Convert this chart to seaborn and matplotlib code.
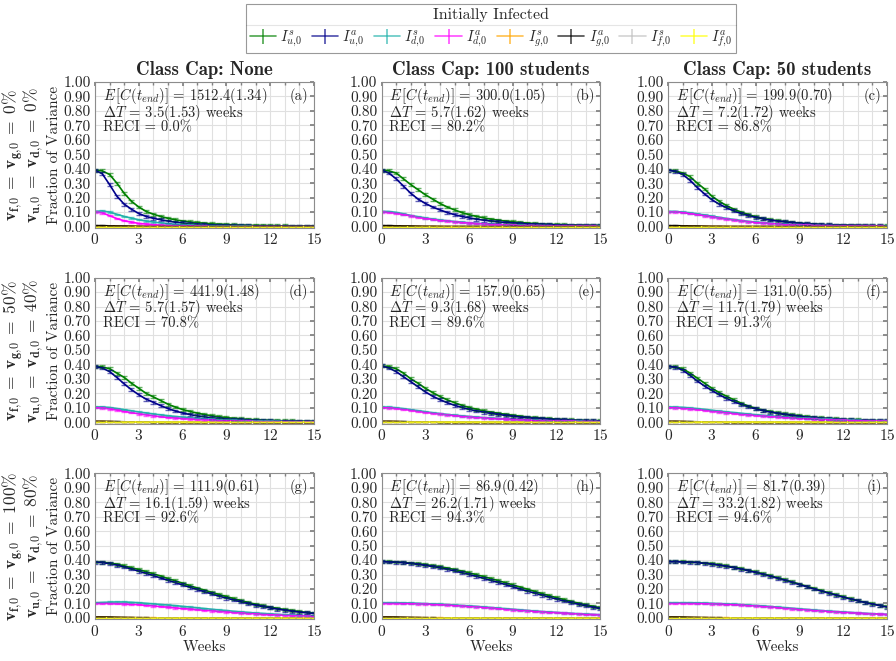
import numpy as np
import pandas as pd
import seaborn as sns
import matplotlib

matplotlib.use("Agg")
import matplotlib.pyplot as plt
from matplotlib.lines import Line2D
from matplotlib.ticker import MultipleLocator, FormatStrFormatter


sns.set_theme(style="white")
plt.rcParams.update({
    "font.family": "serif",
    "font.serif": ["cmr10"],
    "mathtext.fontset": "cm",
    "axes.formatter.use_mathtext": True,
    "axes.unicode_minus": False,
})

# time axis (weeks), one sample every half week
WEEKS = np.arange(0, 15.5, 0.5)

SERIES = ["I_us", "I_ua", "I_ds", "I_da", "I_gs", "I_ga", "I_fs", "I_fa"]
LABELS = [r"$I^s_{u,\!0}$", r"$I^a_{u,\!0}$", r"$I^s_{d,\!0}$", r"$I^a_{d,\!0}$",
          r"$I^s_{g,\!0}$", r"$I^a_{g,\!0}$", r"$I^s_{f,\!0}$", r"$I^a_{f,\!0}$"]
COLORS = ["green", "darkblue", "lightseagreen", "magenta",
          "orange", "black", "silver", "yellow"]
ERR = [0.010, 0.010, 0.005, 0.005, 0.002, 0.002, 0.0, 0.0]

COL_TITLES = ["Class Cap: None", "Class Cap: 100 students", "Class Cap: 50 students"]
ROW_TOP = [r"$\mathbf{v_{f,\!0}\;=\;v_{g,\!0}\;=\;0\%}$",
           r"$\mathbf{v_{f,\!0}\;=\;v_{g,\!0}\;=\;50\%}$",
           r"$\mathbf{v_{f,\!0}\;=\;v_{g,\!0}\;=\;100\%}$"]
ROW_BOT = [r"$\mathbf{v_{u,\!0}\;=\;v_{d,\!0}\;=\;0\%}$",
           r"$\mathbf{v_{u,\!0}\;=\;v_{d,\!0}\;=\;40\%}$",
           r"$\mathbf{v_{u,\!0}\;=\;v_{d,\!0}\;=\;80\%}$"]

PANEL_TAGS = ["(a)", "(b)", "(c)", "(d)", "(e)", "(f)", "(g)", "(h)", "(i)"]
CASES = ["1512.4(1.34)", "300.0(1.05)", "199.9(0.70)",
         "441.9(1.48)", "157.9(0.65)", "131.0(0.55)",
         "111.9(0.61)", "86.9(0.42)", "81.7(0.39)"]
DELTA_T = ["3.5(1.53)", "5.7(1.62)", "7.2(1.72)",
           "5.7(1.57)", "9.3(1.68)", "11.7(1.79)",
           "16.1(1.59)", "26.2(1.71)", "33.2(1.82)"]
RECI = ["0.0", "80.2", "86.8", "70.8", "89.6", "91.3", "92.6", "94.3", "94.6"]

# panel (a)
US_A = [0.39, 0.385, 0.36, 0.30, 0.23, 0.175, 0.135, 0.105, 0.085, 0.07, 0.057, 0.047, 0.038, 0.032, 0.027, 0.023,
        0.019, 0.016, 0.014, 0.012, 0.010, 0.009, 0.008, 0.007, 0.006, 0.005, 0.005, 0.004, 0.004, 0.003, 0.003]
UA_A = [0.39, 0.365, 0.29, 0.21, 0.155, 0.12, 0.09, 0.07, 0.057, 0.047, 0.038, 0.030, 0.025, 0.020, 0.016, 0.013,
        0.011, 0.009, 0.008, 0.007, 0.006, 0.005, 0.004, 0.004, 0.003, 0.003, 0.003, 0.002, 0.002, 0.002, 0.002]
DS_A = [0.105, 0.108, 0.10, 0.085, 0.07, 0.058, 0.047, 0.038, 0.031, 0.025, 0.02, 0.016, 0.013, 0.011, 0.009, 0.007,
        0.006, 0.005, 0.004, 0.004, 0.003, 0.003, 0.002, 0.002, 0.002, 0.002, 0.001, 0.001, 0.001, 0.001, 0.001]
DA_A = [0.10, 0.095, 0.075, 0.055, 0.04, 0.03, 0.022, 0.017, 0.013, 0.010, 0.008, 0.006, 0.005, 0.004, 0.003, 0.003,
        0.002, 0.002, 0.002, 0.001, 0.001, 0.001, 0.001, 0.001, 0.001, 0.001, 0.0, 0.0, 0.0, 0.0, 0.0]
# panel (b)
US_B = [0.39, 0.385, 0.37, 0.33, 0.29, 0.255, 0.22, 0.19, 0.16, 0.135, 0.115, 0.097, 0.082, 0.07, 0.06, 0.051,
        0.044, 0.038, 0.033, 0.028, 0.024, 0.021, 0.018, 0.016, 0.014, 0.012, 0.011, 0.010, 0.009, 0.008, 0.007]
UA_B = [0.39, 0.37, 0.33, 0.28, 0.23, 0.19, 0.16, 0.135, 0.115, 0.097, 0.082, 0.07, 0.06, 0.051, 0.044, 0.038,
        0.032, 0.028, 0.024, 0.021, 0.018, 0.016, 0.014, 0.012, 0.011, 0.010, 0.009, 0.008, 0.007, 0.006, 0.006]
DS_B = [0.105, 0.104, 0.098, 0.088, 0.077, 0.068, 0.06, 0.052, 0.046, 0.04, 0.035, 0.03, 0.026, 0.023, 0.02, 0.017,
        0.015, 0.013, 0.011, 0.01, 0.009, 0.008, 0.007, 0.006, 0.005, 0.005, 0.004, 0.004, 0.003, 0.003, 0.003]
DA_B = [0.10, 0.098, 0.092, 0.083, 0.073, 0.064, 0.056, 0.049, 0.043, 0.037, 0.032, 0.028, 0.024, 0.021, 0.018, 0.016,
        0.014, 0.012, 0.010, 0.009, 0.008, 0.007, 0.006, 0.005, 0.005, 0.004, 0.004, 0.003, 0.003, 0.003, 0.002]
# panel (c)
US_C = [0.39, 0.385, 0.37, 0.345, 0.30, 0.26, 0.21, 0.175, 0.145, 0.12, 0.1, 0.083, 0.068, 0.056, 0.047, 0.04,
        0.034, 0.028, 0.024, 0.020, 0.017, 0.014, 0.012, 0.011, 0.010, 0.009, 0.008, 0.007, 0.006, 0.005, 0.005]
UA_C = [0.39, 0.38, 0.36, 0.32, 0.27, 0.225, 0.185, 0.155, 0.13, 0.108, 0.09, 0.075, 0.063, 0.053, 0.045, 0.038,
        0.032, 0.027, 0.023, 0.019, 0.016, 0.014, 0.012, 0.010, 0.009, 0.008, 0.007, 0.006, 0.005, 0.005, 0.004]
DS_C = [0.105, 0.105, 0.10, 0.095, 0.088, 0.08, 0.072, 0.064, 0.056, 0.049, 0.042, 0.036, 0.031, 0.027, 0.023, 0.02,
        0.017, 0.015, 0.013, 0.011, 0.009, 0.008, 0.007, 0.006, 0.005, 0.005, 0.004, 0.004, 0.003, 0.003, 0.003]
DA_C = [0.10, 0.10, 0.096, 0.09, 0.082, 0.074, 0.066, 0.058, 0.051, 0.044, 0.038, 0.033, 0.028, 0.024, 0.021, 0.018,
        0.015, 0.013, 0.011, 0.010, 0.008, 0.007, 0.006, 0.005, 0.005, 0.004, 0.004, 0.003, 0.003, 0.003, 0.002]
# panel (d)
US_D = [0.385, 0.383, 0.37, 0.34, 0.31, 0.27, 0.235, 0.2, 0.175, 0.15, 0.125, 0.105, 0.088, 0.075, 0.063, 0.053,
        0.045, 0.038, 0.032, 0.027, 0.023, 0.020, 0.017, 0.015, 0.013, 0.011, 0.010, 0.009, 0.008, 0.007, 0.006]
UA_D = [0.385, 0.375, 0.35, 0.31, 0.265, 0.225, 0.19, 0.16, 0.138, 0.115, 0.095, 0.078, 0.064, 0.053, 0.044, 0.037,
        0.031, 0.026, 0.022, 0.019, 0.016, 0.014, 0.012, 0.010, 0.009, 0.008, 0.007, 0.006, 0.005, 0.005, 0.004]
DS_D = [0.105, 0.106, 0.102, 0.095, 0.087, 0.079, 0.071, 0.064, 0.057, 0.051, 0.045, 0.04, 0.035, 0.031, 0.027, 0.024,
        0.021, 0.018, 0.016, 0.014, 0.012, 0.011, 0.010, 0.009, 0.008, 0.007, 0.006, 0.005, 0.005, 0.004, 0.004]
DA_D = [0.10, 0.098, 0.092, 0.084, 0.075, 0.066, 0.058, 0.051, 0.044, 0.038, 0.033, 0.029, 0.025, 0.022, 0.019, 0.016,
        0.014, 0.012, 0.011, 0.009, 0.008, 0.007, 0.006, 0.005, 0.005, 0.004, 0.004, 0.003, 0.003, 0.003, 0.002]
# panel (e)
US_E = [0.39, 0.385, 0.37, 0.34, 0.30, 0.27, 0.235, 0.205, 0.178, 0.155, 0.135, 0.117, 0.102, 0.09, 0.079, 0.07,
        0.062, 0.055, 0.048, 0.042, 0.036, 0.032, 0.028, 0.025, 0.022, 0.019, 0.016, 0.014, 0.012, 0.010, 0.009]
UA_E = [0.39, 0.375, 0.35, 0.315, 0.28, 0.245, 0.21, 0.18, 0.156, 0.135, 0.117, 0.102, 0.089, 0.078, 0.069, 0.061,
        0.054, 0.047, 0.041, 0.036, 0.031, 0.027, 0.024, 0.021, 0.018, 0.016, 0.014, 0.012, 0.010, 0.009, 0.008]
DS_E = [0.105, 0.104, 0.1, 0.094, 0.087, 0.08, 0.073, 0.066, 0.06, 0.054, 0.049, 0.044, 0.04, 0.036, 0.032, 0.029,
        0.026, 0.023, 0.02, 0.018, 0.016, 0.014, 0.013, 0.011, 0.01, 0.009, 0.008, 0.007, 0.006, 0.006, 0.005]
DA_E = [0.10, 0.099, 0.095, 0.089, 0.082, 0.075, 0.068, 0.062, 0.056, 0.05, 0.045, 0.041, 0.037, 0.033, 0.03, 0.027,
        0.024, 0.021, 0.019, 0.017, 0.015, 0.013, 0.012, 0.01, 0.009, 0.008, 0.007, 0.006, 0.006, 0.005, 0.004]
# panel (f)
US_F = [0.385, 0.383, 0.37, 0.34, 0.305, 0.27, 0.235, 0.205, 0.18, 0.155, 0.132, 0.112, 0.097, 0.084, 0.074, 0.065,
        0.058, 0.051, 0.045, 0.039, 0.034, 0.03, 0.027, 0.024, 0.021, 0.019, 0.017, 0.015, 0.013, 0.011, 0.01]
UA_F = [0.385, 0.38, 0.36, 0.325, 0.285, 0.25, 0.22, 0.19, 0.165, 0.143, 0.123, 0.106, 0.092, 0.08, 0.07, 0.061,
        0.053, 0.046, 0.04, 0.035, 0.031, 0.027, 0.024, 0.021, 0.018, 0.016, 0.014, 0.012, 0.011, 0.01, 0.009]
DS_F = [0.105, 0.105, 0.103, 0.099, 0.094, 0.089, 0.083, 0.077, 0.072, 0.067, 0.062, 0.057, 0.052, 0.048, 0.044, 0.04,
        0.037, 0.034, 0.031, 0.028, 0.026, 0.024, 0.022, 0.02, 0.018, 0.016, 0.015, 0.013, 0.012, 0.011, 0.01]
DA_F = [0.10, 0.099, 0.096, 0.092, 0.087, 0.082, 0.076, 0.07, 0.065, 0.06, 0.055, 0.05, 0.046, 0.042, 0.038, 0.035,
        0.032, 0.029, 0.026, 0.024, 0.022, 0.02, 0.018, 0.016, 0.015, 0.013, 0.012, 0.011, 0.01, 0.009, 0.008]
# panel (g)
US_G = [0.387, 0.386, 0.38, 0.372, 0.36, 0.347, 0.335, 0.32, 0.305, 0.29, 0.272, 0.257, 0.24, 0.223, 0.207, 0.192,
        0.177, 0.162, 0.148, 0.134, 0.12, 0.107, 0.095, 0.085, 0.075, 0.066, 0.058, 0.051, 0.044, 0.038, 0.033]
UA_G = [0.385, 0.382, 0.375, 0.365, 0.352, 0.338, 0.323, 0.308, 0.292, 0.276, 0.26, 0.244, 0.228, 0.212, 0.196, 0.181,
        0.166, 0.151, 0.137, 0.124, 0.111, 0.099, 0.088, 0.078, 0.069, 0.061, 0.053, 0.046, 0.04, 0.035, 0.03]
DS_G = [0.105, 0.107, 0.109, 0.11, 0.11, 0.108, 0.105, 0.101, 0.097, 0.093, 0.089, 0.085, 0.08, 0.075, 0.07, 0.065,
        0.06, 0.055, 0.051, 0.046, 0.042, 0.038, 0.034, 0.031, 0.028, 0.025, 0.022, 0.02, 0.018, 0.016, 0.014]
DA_G = [0.10, 0.10, 0.099, 0.098, 0.096, 0.094, 0.091, 0.087, 0.083, 0.078, 0.074, 0.069, 0.065, 0.061, 0.057, 0.053,
        0.049, 0.045, 0.041, 0.037, 0.034, 0.031, 0.028, 0.025, 0.022, 0.02, 0.018, 0.016, 0.014, 0.013, 0.011]
# panel (h)
US_H = [0.39, 0.389, 0.387, 0.384, 0.38, 0.375, 0.369, 0.362, 0.354, 0.345, 0.335, 0.324, 0.312, 0.299, 0.286, 0.272,
        0.258, 0.243, 0.228, 0.213, 0.198, 0.183, 0.168, 0.154, 0.14, 0.127, 0.114, 0.102, 0.091, 0.08, 0.07]
UA_H = [0.388, 0.387, 0.385, 0.381, 0.376, 0.37, 0.363, 0.355, 0.346, 0.336, 0.325, 0.313, 0.3, 0.287, 0.273, 0.259,
        0.245, 0.23, 0.215, 0.2, 0.185, 0.171, 0.157, 0.143, 0.13, 0.117, 0.105, 0.094, 0.083, 0.073, 0.064]
DS_H = [0.105, 0.105, 0.105, 0.104, 0.103, 0.101, 0.099, 0.097, 0.095, 0.092, 0.089, 0.086, 0.083, 0.08, 0.076, 0.072,
        0.068, 0.064, 0.06, 0.056, 0.052, 0.048, 0.044, 0.041, 0.038, 0.035, 0.032, 0.029, 0.026, 0.024, 0.022]
DA_H = [0.10, 0.10, 0.10, 0.099, 0.098, 0.097, 0.095, 0.093, 0.091, 0.088, 0.085, 0.082, 0.079, 0.076, 0.072, 0.068,
        0.064, 0.06, 0.056, 0.052, 0.049, 0.045, 0.042, 0.039, 0.036, 0.033, 0.03, 0.027, 0.025, 0.023, 0.021]
# panel (i)
US_I = [0.39, 0.39, 0.389, 0.387, 0.384, 0.38, 0.375, 0.368, 0.36, 0.351, 0.341, 0.33, 0.318, 0.305, 0.292, 0.278,
        0.264, 0.249, 0.234, 0.219, 0.204, 0.189, 0.174, 0.16, 0.146, 0.133, 0.12, 0.108, 0.097, 0.087, 0.077]
UA_I = [0.388, 0.388, 0.387, 0.385, 0.382, 0.377, 0.371, 0.364, 0.356, 0.347, 0.337, 0.326, 0.314, 0.301, 0.288, 0.274,
        0.26, 0.245, 0.23, 0.215, 0.2, 0.185, 0.171, 0.157, 0.143, 0.13, 0.118, 0.106, 0.095, 0.085, 0.075]
DS_I = [0.105, 0.105, 0.105, 0.105, 0.104, 0.103, 0.101, 0.099, 0.097, 0.095, 0.092, 0.089, 0.086, 0.083, 0.079, 0.075,
        0.071, 0.067, 0.063, 0.059, 0.055, 0.051, 0.047, 0.044, 0.041, 0.038, 0.035, 0.032, 0.029, 0.027, 0.025]
DA_I = [0.10, 0.10, 0.10, 0.10, 0.099, 0.098, 0.097, 0.095, 0.093, 0.091, 0.088, 0.085, 0.082, 0.079, 0.075, 0.071,
        0.067, 0.063, 0.059, 0.055, 0.052, 0.048, 0.045, 0.042, 0.039, 0.036, 0.033, 0.03, 0.028, 0.026, 0.024]

# the four near-zero groups (same in every panel)
GS_ALL = [0.005, 0.005, 0.004, 0.003, 0.002, 0.002, 0.001, 0.001, 0.001, 0.0, 0.0, 0.0, 0.0, 0.0, 0.0, 0.0,
          0.0, 0.0, 0.0, 0.0, 0.0, 0.0, 0.0, 0.0, 0.0, 0.0, 0.0, 0.0, 0.0, 0.0, 0.0]
GA_ALL = [0.006, 0.006, 0.005, 0.004, 0.003, 0.002, 0.001, 0.001, 0.0, 0.0, 0.0, 0.0, 0.0, 0.0, 0.0, 0.0,
          0.0, 0.0, 0.0, 0.0, 0.0, 0.0, 0.0, 0.0, 0.0, 0.0, 0.0, 0.0, 0.0, 0.0, 0.0]
FS_ALL = [0.0] * 31
FA_ALL = [0.0] * 31

PANELS = [
    [US_A, UA_A, DS_A, DA_A], [US_B, UA_B, DS_B, DA_B], [US_C, UA_C, DS_C, DA_C],
    [US_D, UA_D, DS_D, DA_D], [US_E, UA_E, DS_E, DA_E], [US_F, UA_F, DS_F, DA_F],
    [US_G, UA_G, DS_G, DA_G], [US_H, UA_H, DS_H, DA_H], [US_I, UA_I, DS_I, DA_I],
]


def panel_frame(values):
    rows = []
    for name, ys in zip(SERIES, values + [GS_ALL, GA_ALL, FS_ALL, FA_ALL]):
        for t, y in zip(WEEKS, ys):
            rows.append({"week": t, "frac": y, "series": name})
    return pd.DataFrame(rows)


fig = plt.figure(figsize=(8.96, 6.61), dpi=100)
axes = fig.subplots(3, 3)
fig.subplots_adjust(left=0.106, right=0.99, bottom=0.063, top=0.876, wspace=0.309, hspace=0.34)

handles = []
for k, ax in enumerate(axes.flat):
    df = panel_frame(PANELS[k])
    sns.lineplot(data=df, x="week", y="frac", hue="series", hue_order=SERIES,
                 palette=COLORS, linewidth=1.2, legend=False, ax=ax)
    for name, color, err in zip(SERIES, COLORS, ERR):
        sub = df[df["series"] == name]
        ax.errorbar(sub["week"], sub["frac"], yerr=err, fmt="none", ecolor=color,
                    elinewidth=1.0, capsize=2, alpha=0.6)
        if k == 0:
            handles.append(ax.errorbar([], [], yerr=[], color=color, lw=1.2,
                                       capsize=2.5, alpha=0.7))

    ax.set_xlim(0, 15)
    ax.set_ylim(-0.01, 1.0)
    ax.xaxis.set_major_locator(MultipleLocator(3))
    ax.xaxis.set_minor_locator(MultipleLocator(1))
    ax.yaxis.set_major_locator(MultipleLocator(0.1))
    ax.yaxis.set_major_formatter(FormatStrFormatter("%.2f"))
    ax.tick_params(which="both", direction="in", top=True, right=True,
                   labelsize=11, length=3, color="0.5", pad=3)
    ax.tick_params(which="minor", length=2)
    ax.grid(which="major", color="0.88", lw=0.8)
    ax.grid(which="minor", axis="x", color="0.88", lw=0.8)
    for s in ax.spines.values():
        s.set_color("0.55")
        s.set_linewidth(0.8)
    ax.set_xlabel("Weeks" if k >= 6 else "", fontsize=11, labelpad=1)
    ax.set_ylabel("Fraction of Variance" if k % 3 == 0 else "", fontsize=11, labelpad=2)

    ax.text(0.035, 0.905, r"$E\,\left[C(t_{end})\right]$ = " + CASES[k],
            transform=ax.transAxes, fontsize=10.5, va="center")
    ax.text(0.035, 0.79, r"$\Delta T$ = " + DELTA_T[k] + " weeks",
            transform=ax.transAxes, fontsize=10.5, va="center")
    ax.text(0.035, 0.688, "RECI = " + RECI[k] + "%",
            transform=ax.transAxes, fontsize=10.5, va="center")
    ax.text(0.975, 0.905, PANEL_TAGS[k], transform=ax.transAxes,
            fontsize=10.5, va="center", ha="right")

for c, title in enumerate(COL_TITLES):
    axes[0, c].set_title(title, fontname="cmb10", fontsize=13.5, pad=5)

for r in range(3):
    pos = axes[r, 0].get_position()
    yc = (pos.y0 + pos.y1) / 2
    fig.text(13 / 896, yc, ROW_TOP[r], rotation=90, ha="center", va="center", fontsize=12.5)
    fig.text(33 / 896, yc, ROW_BOT[r], rotation=90, ha="center", va="center", fontsize=12.5)

leg = fig.legend(handles, LABELS, loc="upper center", bbox_to_anchor=(0.548, 0.994),
                 borderaxespad=0, ncol=8, title="Initially Infected", fontsize=10.5,
                 title_fontsize=11.5, frameon=True, fancybox=False, edgecolor="0.5",
                 handlelength=1.8, handletextpad=0.3, columnspacing=0.65, borderpad=0.25)
leg.get_frame().set_linewidth(0.8)

# rule under the legend title, matched to the drawn legend box
fig.canvas.draw()
inv = fig.transFigure.inverted()
frame_bb = leg.get_frame().get_window_extent()
title_bb = leg.get_title().get_window_extent()
x0, _ = inv.transform((frame_bb.x0, 0))
x1, _ = inv.transform((frame_bb.x1, 0))
_, yline = inv.transform((0, title_bb.y0 - 3))
fig.add_artist(Line2D([x0, x1], [yline, yline], color="0.5", lw=0.8))

fig.savefig("out.png", dpi=100)
